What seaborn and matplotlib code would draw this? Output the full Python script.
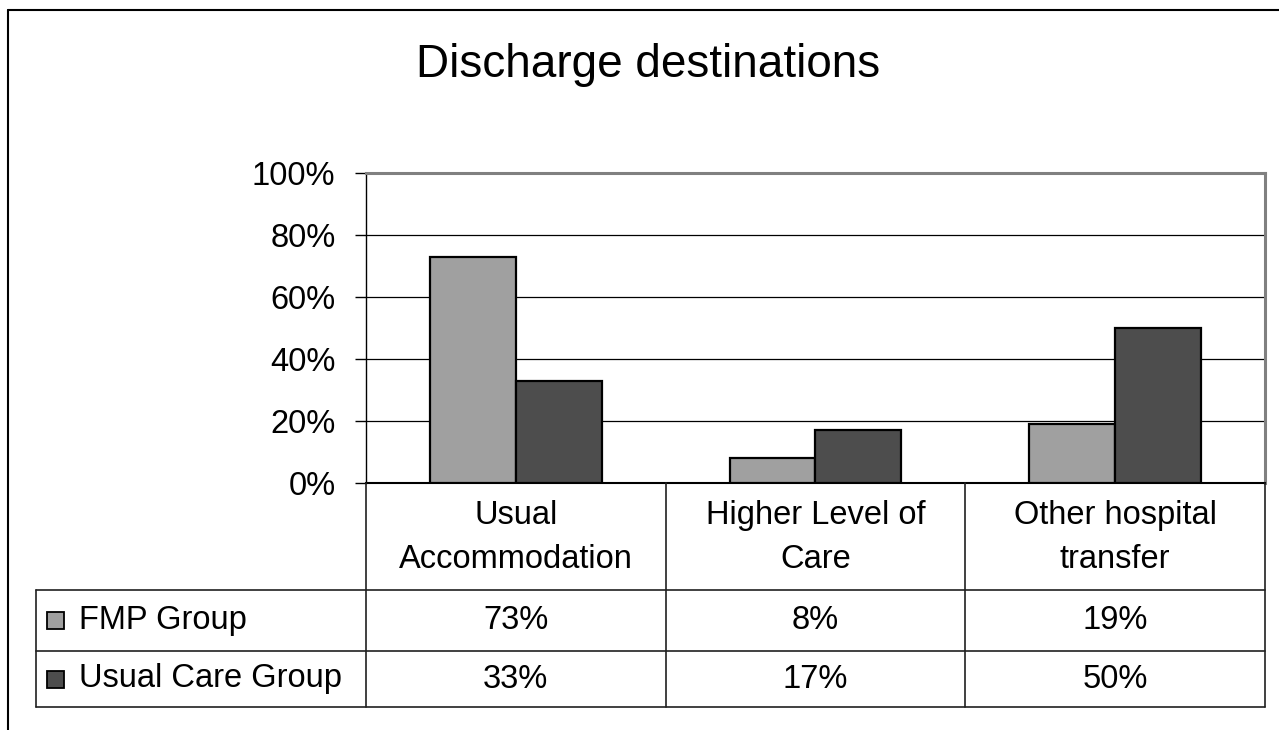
import pandas as pd
import matplotlib.pyplot as plt
import matplotlib.transforms as mtransforms
from matplotlib.lines import Line2D
from matplotlib.patches import Rectangle
import seaborn as sns

# data
categories = ["Usual\nAccommodation", "Higher Level of\nCare", "Other hospital\ntransfer"]
groups = ["FMP Group", "Usual Care Group"]
fmp_values = [73, 8, 19]
usual_values = [33, 17, 50]
y_ticks = [0, 20, 40, 60, 80, 100]
group_colors = {"FMP Group": "#a0a0a0", "Usual Care Group": "#4d4d4d"}

df = pd.DataFrame({
    "destination": categories * 2,
    "group": [groups[0]] * len(categories) + [groups[1]] * len(categories),
    "percent": fmp_values + usual_values,
})

sns.set_theme(style="white")
plt.rcParams["font.family"] = ["Liberation Sans", "DejaVu Sans"]
plt.rcParams["text.color"] = "black"
plt.rcParams["ytick.labelcolor"] = "black"

W, H = 1279, 730
fig = plt.figure(figsize=(W / 100, H / 100), dpi=100)


def fx(px):
    return px / W


def fy(py):
    return 1 - py / H


# plot area placed like the Excel chart
ax = fig.add_axes([fx(366), fy(483), fx(1265) - fx(366), fy(173) - fy(483)])
sns.barplot(data=df, x="destination", y="percent", hue="group", order=categories,
            hue_order=groups, palette=group_colors, width=0.573, edgecolor="black",
            linewidth=1.6, legend=False, ax=ax, zorder=3)

ax.set_xlim(-0.5, len(categories) - 0.5)
ax.set_ylim(0, 100)
ax.set_yticks(y_ticks)
ax.set_yticklabels([f"{t}%" for t in y_ticks], fontsize=23.5, color="black")
ax.set_xticks([])
ax.set_xlabel("")
ax.set_ylabel("")
ax.tick_params(axis="y", length=8, width=1, color="black", pad=14, left=True, direction="out")
for t in y_ticks[1:-1]:
    ax.axhline(t, color="black", lw=0.9, zorder=1)

ax.spines["left"].set_color("black")
ax.spines["left"].set_linewidth(1.0)
ax.spines["bottom"].set_color("black")
ax.spines["bottom"].set_linewidth(1.5)
for side in ["top", "right"]:
    ax.spines[side].set_color("#808080")
    ax.spines[side].set_linewidth(2.2)

# title
fig.text(fx(648), fy(65), "Discharge destinations", ha="center", va="center", fontsize=33)

# outer chart border (top and left visible)
fig.add_artist(Line2D([fx(8), fx(W)], [fy(10), fy(10)], color="black", lw=1.5))
fig.add_artist(Line2D([fx(8), fx(8)], [fy(10), fy(H)], color="black", lw=1.5))

# data table under the axis
trans = mtransforms.blended_transform_factory(ax.transData, fig.transFigure)
row_top, row1, row2, row_bot = 483, 590, 651, 707
line_kw = dict(color="#202020", lw=1.2, clip_on=False)

for py in [row1, row2, row_bot]:
    fig.add_artist(Line2D([fx(36), fx(1265)], [fy(py), fy(py)], **line_kw))
fig.add_artist(Line2D([fx(36), fx(36)], [fy(row1), fy(row_bot)], **line_kw))
for i in range(len(categories) + 1):
    fig.add_artist(Line2D([i - 0.5, i - 0.5], [fy(row_top), fy(row_bot)],
                          transform=trans, **line_kw))

for i, cat in enumerate(categories):
    fig.text(i, fy((row_top + row1) / 2 + 1), cat, transform=trans, ha="center",
             va="center", fontsize=23.5, linespacing=1.55)
    fig.text(i, fy((row1 + row2) / 2), f"{fmp_values[i]}%", transform=trans,
             ha="center", va="center", fontsize=23.5)
    fig.text(i, fy((row2 + row_bot) / 2), f"{usual_values[i]}%", transform=trans,
             ha="center", va="center", fontsize=23.5)

# legend keys in the table's first column
for g, (py0, py1) in zip(groups, [(row1, row2), (row2, row_bot)]):
    cy = (py0 + py1) / 2
    fig.add_artist(Rectangle((fx(47), fy(cy + 8.5)), fx(17), fy(cy - 8.5) - fy(cy + 8.5),
                             facecolor=group_colors[g], edgecolor="black", lw=1.3,
                             transform=fig.transFigure))
    fig.text(fx(79), fy(cy), g, ha="left", va="center", fontsize=23.5)

fig.savefig("out.png", dpi=100)
